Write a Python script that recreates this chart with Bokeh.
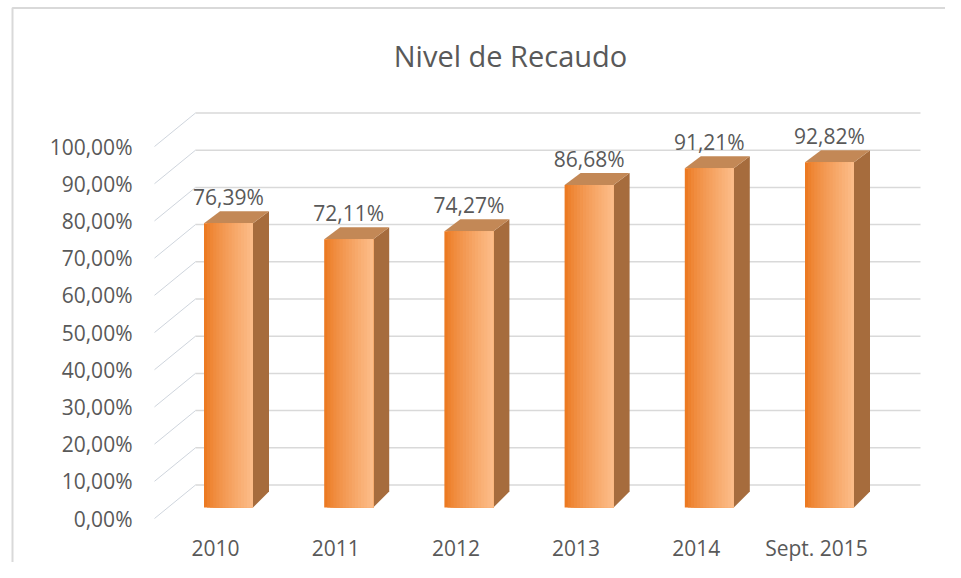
import numpy as np
from bokeh.plotting import figure
from bokeh.models import Range1d, LinearAxis, FixedTicker, ColumnDataSource
from bokeh.core.properties import value
from bokeh.embed import file_html
from bokeh.resources import INLINE

# ---------------- data ----------------
categories = ["2010", "2011", "2012", "2013", "2014", "Sept. 2015"]
recaudo = [76.39, 72.11, 74.27, 86.68, 91.21, 92.82]
y_ticks = [0, 10, 20, 30, 40, 50, 60, 70, 80, 90, 100]
y_tick_labels = ["0,00%", "10,00%", "20,00%", "30,00%", "40,00%", "50,00%",
                 "60,00%", "70,00%", "80,00%", "90,00%", "100,00%"]
value_labels = ["76,39%", "72,11%", "74,27%", "86,68%", "91,21%", "92,82%"]
title_text = "Nivel de Recaudo"

# ---------------- geometry (pixel scale of the 3D-looking layout) ----------------
W, H = 945, 562
PAGE_L, PAGE_T = 0, 0
PX_X = 120.2     # px per category
PX_Y = 3.72      # px per percentage point
CAT0_PX = 215    # page x of first category label
ZERO_PY = 518    # page y of the 0% label


def xd(px):
    return (px - CAT0_PX) / PX_X


def yd(py):
    return (ZERO_PY - py) / PX_Y


FONT = "Open Sans"
TXT = "#595959"
GRID = "#D9D9D9"
LBL_SIZE = 21
TITLE_SIZE = 29
BASE_CORR = 0.43  # empirical baseline correction (fraction of font size)

p = figure(width=W, height=H,
           x_range=Range1d(xd(PAGE_L), xd(PAGE_L + W)),
           y_range=Range1d(yd(PAGE_T + H), yd(PAGE_T)),
           output_backend="svg", toolbar_location=None,
           x_axis_type=None, y_axis_type=None, min_border=0)
p.outline_line_color = None
p.background_fill_color = "white"
p.border_fill_color = "white"

# chart border (left + top)
p.line(x=[xd(12), xd(12), xd(PAGE_L + W)], y=[yd(PAGE_T + H), yd(7.5), yd(7.5)],
       line_color="#D9D9D9", line_width=2)

# back wall gridlines and diagonal connectors
BACK_DX_PX = 41
BACK_DY = 33.5 / PX_Y
AXIS_PX = 140
yt = np.array(y_ticks, dtype=float)
p.segment(x0=[xd(AXIS_PX + BACK_DX_PX + 14)] * len(yt), x1=[xd(920)] * len(yt),
          y0=yt + BACK_DY, y1=yt + BACK_DY, line_color=GRID, line_width=1.5)
p.segment(x0=[xd(AXIS_PX + 14)] * len(yt), x1=[xd(AXIS_PX + 14 + BACK_DX_PX)] * len(yt),
          y0=yt, y1=yt + BACK_DY, line_color="#CFD5DD", line_width=1)

# bars (pseudo 3D)
vals = np.array(recaudo)
idx = np.arange(len(categories))
FRONT_DY = 11 / PX_Y
HALF_W = 24.5 / PX_X
SHIFT = 13 / PX_X
left = idx + SHIFT - HALF_W
right = idx + SHIFT + HALF_W
bottom = np.full(len(vals), FRONT_DY)
top = vals + FRONT_DY
DX = 16 / PX_X
DY_TOP = 12 / PX_Y
DY_BOT = 16 / PX_Y

# side faces
side_xs = [[r, r + DX, r + DX, r] for r in right]
side_ys = [[b, b + DY_BOT, t + DY_TOP, t] for b, t in zip(bottom, top)]
p.patches(xs=side_xs, ys=side_ys, fill_color="#A66C3D", line_color=None)
# top faces
top_xs = [[l, l + DX, r + DX, r] for l, r in zip(left, right)]
top_ys = [[t, t + DY_TOP, t + DY_TOP, t] for t in top]
p.patches(xs=top_xs, ys=top_ys, fill_color="#C38856", line_color=None)

# front faces with horizontal gradient
N = 16
c0 = np.array([0xEC, 0x7A, 0x22])
c1 = np.array([0xFC, 0xBC, 0x88])
sl, sr, sb, st, sc = [], [], [], [], []
for i in range(len(vals)):
    w = right[i] - left[i]
    for j in range(N):
        f = j / (N - 1)
        c = (c0 + (c1 - c0) * f ** 0.8).astype(int)
        sl.append(left[i] + w * j / N)
        sr.append(right[i])
        sb.append(bottom[i])
        st.append(top[i])
        sc.append("#%02x%02x%02x" % tuple(c))
p.quad(source=ColumnDataSource(dict(left=sl, right=sr, bottom=sb, top=st, color=sc)),
       left="left", right="right", bottom="bottom", top="top",
       fill_color="color", line_color=None)

# value labels (baseline ~17px above the bar's front top)
p.text(x=idx + SHIFT, y=top + (17 + BASE_CORR * LBL_SIZE) / PX_Y, text=value_labels,
       text_align="center", text_baseline="alphabetic",
       text_font=value(FONT), text_font_size=f"{LBL_SIZE}px", text_color=TXT)

# title (baseline at page y ~67)
p.text(x=[xd(510)], y=[yd(67 - BASE_CORR * TITLE_SIZE)], text=[title_text], text_align="center",
       text_baseline="alphabetic", text_font=value(FONT),
       text_font_size=f"{TITLE_SIZE}px", text_color=TXT)

# axes
yaxis = LinearAxis(fixed_location=xd(AXIS_PX),
                   ticker=FixedTicker(ticks=y_ticks),
                   major_label_overrides={t: l for t, l in zip(y_ticks, y_tick_labels)})
xaxis = LinearAxis(fixed_location=yd(528),
                   ticker=FixedTicker(ticks=list(idx)),
                   major_label_overrides={int(i): c for i, c in zip(idx, categories)})
for ax in (yaxis, xaxis):
    ax.axis_line_color = None
    ax.major_tick_line_color = None
    ax.minor_tick_line_color = None
    ax.major_tick_out = 0
    ax.major_tick_in = 0
    ax.major_label_text_font = FONT
    ax.major_label_text_font_size = f"{LBL_SIZE}px"
    ax.major_label_text_color = TXT
yaxis.major_label_standoff = 8
xaxis.major_label_standoff = 5
p.add_layout(yaxis, "left")
p.add_layout(xaxis, "below")

open("out.html", "w").write(file_html(p, INLINE))
